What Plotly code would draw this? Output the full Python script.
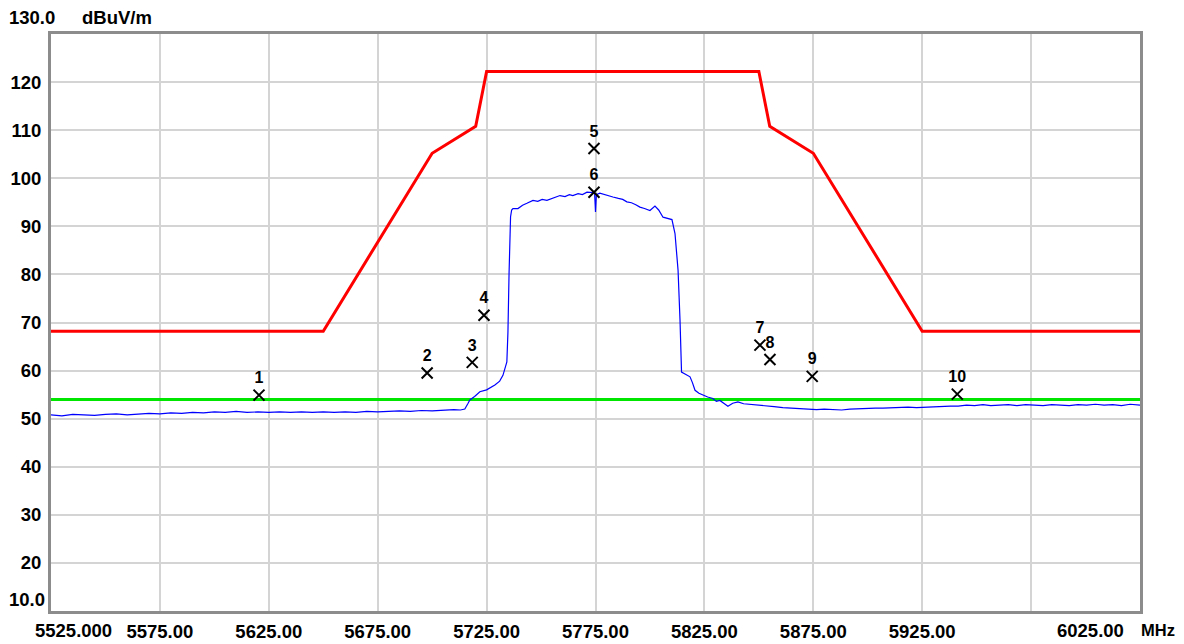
import plotly.graph_objects as go

# ---- data ----
trace_freq = [5525, 5530, 5535, 5540, 5545, 5550, 5555, 5560, 5565, 5570, 5575, 5580, 5585,
              5590, 5595, 5600, 5605, 5610, 5615, 5620, 5625, 5630, 5635, 5640, 5645, 5650,
              5655, 5660, 5665, 5670, 5675, 5680, 5685, 5690, 5695, 5700, 5705, 5710, 5713,
              5715.0, 5716.5, 5717.3, 5719.5, 5721.9, 5725.0, 5728.8, 5731.0, 5732.5, 5734.3,
              5734.8, 5735.3, 5735.8, 5736.0, 5736.5, 5737.1, 5739.4, 5741.5, 5743.5, 5746.3,
              5748.5, 5750.5, 5752.7, 5755.0, 5756.8, 5758.7, 5761.0, 5763.0, 5764.6, 5767.0,
              5769.0, 5771.1, 5773.8, 5774.6, 5775.0, 5775.4, 5777.0, 5779.0, 5781.0, 5783.0,
              5785.5, 5787.5, 5789.4, 5791.5, 5793.5, 5795.4, 5797.5, 5800.0, 5802.3, 5804.0,
              5806.0, 5808.0, 5810.1, 5811.5, 5812.9, 5813.8, 5814.5, 5816.5, 5818.4, 5819.5,
              5820.7, 5822.5, 5824.3, 5826.5, 5828.9, 5830.5, 5832.1, 5834.0, 5835.8, 5838.0,
              5840.4, 5843.0, 5845.9, 5849.5, 5853.6, 5857.0, 5861.0, 5865.0, 5868.8, 5872.5,
              5876.5, 5880.0, 5884.0, 5888.0, 5891.8, 5896.0, 5900.0, 5903.5, 5907.0, 5911.0,
              5915.0, 5918.5, 5922.4, 5926.0, 5929.9, 5934.0, 5938.0, 5941.5, 5945.4, 5949.0,
              5952.9, 5956.5, 5960.7, 5964.5, 5968.5, 5972.5, 5976.5, 5980.5, 5984.5, 5988.5,
              5992.5, 5996.5, 6000.5, 6004.5, 6008.5, 6012.5, 6016.5, 6020.5, 6025.0]
trace_level = [50.8, 50.6, 50.9, 50.8, 50.7, 50.9, 51.0, 50.8, 51.0, 51.1, 51.0, 51.2, 51.1,
               51.3, 51.2, 51.4, 51.3, 51.5, 51.3, 51.4, 51.3, 51.4, 51.3, 51.4, 51.3, 51.4,
               51.3, 51.4, 51.3, 51.5, 51.4, 51.5, 51.6, 51.5, 51.7, 51.6, 51.8, 51.9, 51.8,
               52.0, 53.2, 53.9, 54.6, 55.6, 56.0, 57.0, 57.8, 59.0, 61.8,
               68.0, 80.0, 90.0, 92.0, 93.4, 93.7, 93.7, 94.4, 94.8, 95.4,
               95.2, 95.6, 95.4, 95.8, 96.1, 96.4, 96.2, 96.6, 96.4, 96.8,
               96.6, 97.1, 97.0, 96.8, 93.0, 96.6, 96.9, 96.6, 96.4, 96.1,
               95.8, 95.6, 95.1, 94.9, 94.5, 94.0, 93.7, 93.3, 94.2, 93.4,
               91.9, 91.6, 91.4, 88.5, 80.9, 70.5, 59.7, 59.2, 58.7, 57.5,
               55.9, 55.3, 54.9, 54.5, 54.2, 53.6, 53.8, 53.1, 52.6, 53.2,
               53.5, 53.1, 53.0, 52.8, 52.6, 52.5, 52.3, 52.2, 52.1, 52.0,
               51.9, 52.0, 51.9, 51.8, 52.0, 52.1, 52.1, 52.2, 52.2, 52.3,
               52.3, 52.4, 52.3, 52.4, 52.4, 52.5, 52.6, 52.6, 52.8, 52.7,
               52.9, 52.7, 52.8, 52.9, 52.7, 52.9, 52.8, 52.7, 52.9, 52.8,
               52.7, 52.9, 52.8, 53.0, 52.8, 52.9, 52.7, 53.0, 52.8]

limit_freq = [5525, 5650, 5700, 5720, 5725, 5850, 5855, 5875, 5925, 6025]
limit_level = [68.2, 68.2, 105.2, 110.8, 122.2, 122.2, 110.8, 105.2, 68.2, 68.2]

avg_limit_freq = [5525, 6025]
avg_limit_level = [54.0, 54.0]

marker_ids = ["1", "2", "3", "4", "5", "6", "7", "8", "9", "10"]
marker_freq = [5620.5, 5697.7, 5718.4, 5723.8, 5774.3, 5774.3, 5850.5, 5855.1, 5874.5, 5941.1]
marker_level = [54.9, 59.5, 61.7, 71.5, 106.2, 97.1, 65.3, 62.3, 58.8, 55.1]

grid_ticks = [5575, 5625, 5675, 5725, 5775, 5825, 5875, 5925, 5975]
grid_labels = ["5575.00", "5625.00", "5675.00", "5725.00", "5775.00", "5825.00", "5875.00", "5925.00", ""]
y_ticks = [20, 30, 40, 50, 60, 70, 80, 90, 100, 110, 120]

FONT = "Liberation Sans"
FS = 18.5

# page has an 8px body margin: figure is drawn 8px in from the window edges
W, H = 1176, 636
ML, MR, MT, MB = 43, 44, 26, 33
PX0, PY0 = 8 + ML, 8 + MT
PW, PH = W - ML - MR, H - MT - MB

fig = go.Figure()
fig.add_trace(go.Scatter(x=avg_limit_freq, y=avg_limit_level, mode="lines",
                         line=dict(color="#00e600", width=3), showlegend=False))
fig.add_trace(go.Scatter(x=limit_freq, y=limit_level, mode="lines",
                         line=dict(color="#ff0000", width=3), showlegend=False))
fig.add_trace(go.Scatter(x=trace_freq, y=trace_level, mode="lines",
                         line=dict(color="#0000ff", width=1.2), showlegend=False))
fig.add_trace(go.Scatter(x=marker_freq, y=marker_level, mode="markers+text",
                         text=marker_ids, textposition="top center",
                         textfont=dict(family=FONT, size=16, color="#000000", weight="bold"),
                         marker=dict(symbol="x-thin", size=11, line=dict(color="#000000", width=2)),
                         showlegend=False))

fig.update_layout(
    width=W, height=H,
    margin=dict(l=ML, r=MR, t=MT, b=MB, autoexpand=False),
    paper_bgcolor="white", plot_bgcolor="white",
    font=dict(family=FONT, size=FS, color="#000000"),
    xaxis=dict(range=[5525, 6025], tickmode="array", tickvals=grid_ticks, ticktext=grid_labels,
               showgrid=True, gridcolor="#d4d4d4", gridwidth=2, zeroline=False,
               showline=True, linecolor="#8c8c8c", linewidth=3, mirror=True,
               ticks="", ticklabelstandoff=2, automargin=False,
               tickfont=dict(family=FONT, size=FS, weight="bold")),
    yaxis=dict(range=[10, 130], tickmode="array", tickvals=y_ticks,
               showgrid=True, gridcolor="#d4d4d4", gridwidth=2, zeroline=False,
               showline=True, linecolor="#8c8c8c", linewidth=3, mirror=True,
               ticks="", ticklabelstandoff=3, automargin=False,
               tickfont=dict(family=FONT, size=FS, weight="bold")),
)

ann_font = dict(family=FONT, size=FS, color="#000000", weight="bold")
free_texts = [("130.0", 7, 17, FS), ("dBuV/m", 80, 17, FS), ("10.0", 7, 599, FS),
              ("5525.000", 33, 630, FS), ("6025.00", 1055, 630, FS), ("MHz", 1139, 630, 16.5)]
for txt, px, py, fs in free_texts:
    fig.add_annotation(text=txt, xref="paper", yref="paper",
                       x=(px - PX0) / PW, y=1 - (py - PY0) / PH,
                       showarrow=False, font=dict(ann_font, size=fs),
                       xanchor="left", yanchor="middle")

fig.write_html("out.html")
